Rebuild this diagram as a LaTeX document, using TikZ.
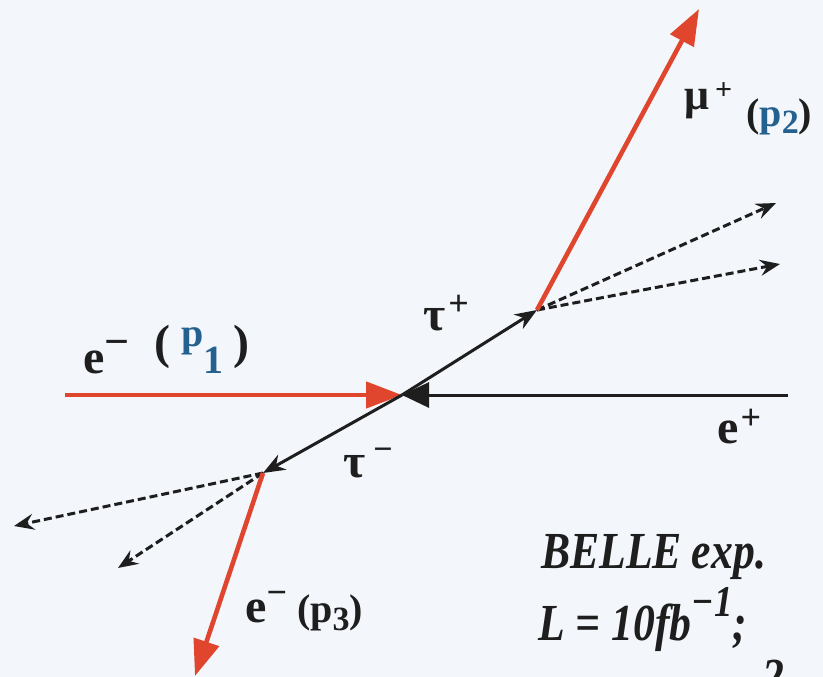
\documentclass[tikz,border=0pt]{standalone}
\usepackage{fontspec}
\setmainfont{Liberation Serif}
\usetikzlibrary{arrows.meta}
\definecolor{bgc}{HTML}{F3F6FA}
\definecolor{redl}{HTML}{E0452E}
\definecolor{bluep}{HTML}{24618F}
\definecolor{inkc}{HTML}{1E1E1E}
\newcommand{\fs}[1]{\fontsize{#1}{#1}\selectfont}
\tikzset{
  lbl/.style={inner sep=0pt,anchor=base west,text=inkc,font=\fs{48}\bfseries},
  redarrow/.style={draw=redl,line width=4.6pt,-{Triangle[length=36pt,width=26pt]}},
  blkarrow/.style={draw=inkc,line width=3pt,-{Stealth[length=22pt,width=17pt,inset=7pt]}},
  dasharrow/.style={draw=inkc,line width=3pt,dash pattern=on 8pt off 4pt,-{Stealth[length=20pt,width=16pt,inset=7pt]}},
  ital/.style={inner sep=0pt,anchor=base west,text=inkc,xscale=0.84,font=\fs{52}\bfseries\itshape}
}
\begin{document}
\begin{tikzpicture}[x=1pt,y=-1pt]
\fill[bgc] (0,0) rectangle (823,677);
\useasboundingbox (0,0) rectangle (823,677);
\clip (0,0) rectangle (823,677);
% points
\coordinate (V) at (402,395);
\coordinate (T1) at (537,310);
\coordinate (T2) at (263,473);
\coordinate (eminus) at (65,395);
\coordinate (eplus) at (788,395);
\coordinate (mu) at (699,9);
\coordinate (d1) at (776,203);
\coordinate (d2) at (780,264);
\coordinate (e3) at (195,676);
\coordinate (d3) at (14,526);
\coordinate (d4) at (118,568);
% beams
\draw[redarrow] (eminus) -- (V);
\draw[draw=inkc,line width=3pt,-{Triangle[length=27pt,width=25pt]}] (eplus) -- (V);
% taus
\draw[blkarrow] (V) -- (T1);
\draw[blkarrow] (V) -- (T2);
% decays
\draw[dasharrow] (T1) -- (d1);
\draw[dasharrow] (T1) -- (d2);
\draw[dasharrow] (T2) -- (d3);
\draw[dasharrow] (T2) -- (d4);
\draw[redarrow] (T1) -- (mu);
\draw[redarrow] (T2) -- (e3);
% labels
\node[lbl] (le1) at (83,373) {e\raisebox{17pt}{\fs{44}−}\hspace{25pt}\raisebox{15pt}{(}\hspace{11pt}{\color{bluep}\raisebox{27pt}{\fs{40}p}\fs{40}1}\hspace{10pt}\raisebox{15pt}{)}};
\node[lbl] (ltp) at (423,330) {τ\hspace{3pt}\raisebox{15pt}{\fs{36}+}};
\node[lbl] (ltm) at (343,477) {τ\hspace{8pt}\raisebox{17pt}{\fs{34}−}};
\node[lbl] (lep) at (717,443) {e\hspace{2pt}\raisebox{14pt}{\fs{36}+}};
\node[lbl,font=\fs{44}\bfseries] (lmu) at (684,110) {μ\hspace{6pt}\raisebox{10pt}{\fs{30}+}};
\node[lbl,font=\fs{40}\bfseries] (lp2) at (746,126) {({\color{bluep}p\raisebox{-8pt}{\fs{34}2}})};
\node[lbl] (le3) at (245,622) {e\raisebox{18pt}{\fs{36}−}\hspace{10pt}\fs{40}(p\raisebox{-8pt}{\fs{34}3})};
\node[ital] (belle) at (541,568) {BELLE\hspace{12pt}exp.};
\node[ital] (lum) at (538,640) {L = 10fb\raisebox{24pt}{\fs{44}−1};};
\node[ital] (two) at (762,694) {2};
\end{tikzpicture}
\end{document}
